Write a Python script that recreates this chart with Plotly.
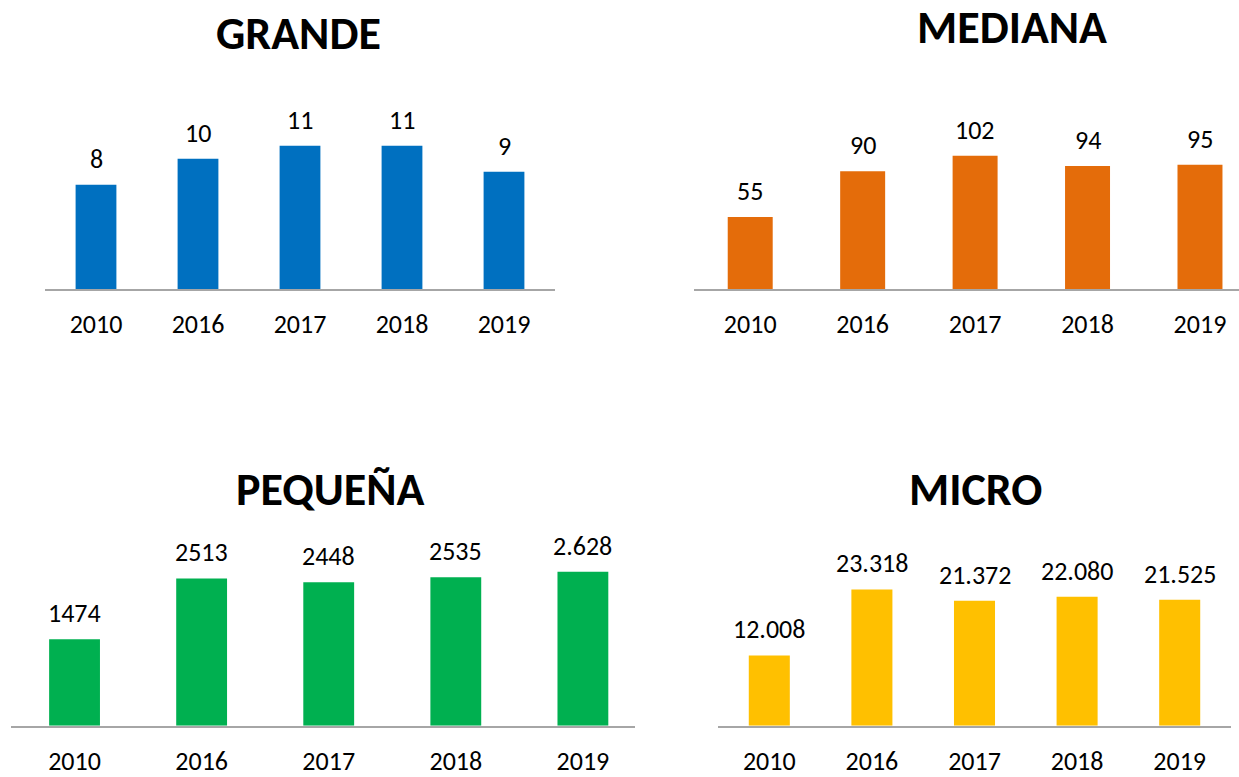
import plotly.graph_objects as go
from plotly.subplots import make_subplots

years = ['2010', '2016', '2017', '2018', '2019']

grande = [8, 10, 11, 11, 9]
mediana = [55, 90, 102, 94, 95]
pequena = [1474, 2513, 2448, 2535, 2628]
micro = [12008, 23318, 21372, 22080, 21525]

grande_labels = ['8', '10', '11', '11', '9']
mediana_labels = ['55', '90', '102', '94', '95']
pequena_labels = ['1474', '2513', '2448', '2535', '2.628']
micro_labels = ['12.008', '23.318', '21.372', '22.080', '21.525']

titles = ['GRANDE', 'MEDIANA', 'PEQUEÑA', 'MICRO']
colors = ['#0070C0', '#E46C0A', '#00B050', '#FFC000']

FONT = 'Carlito, Lato, sans-serif'
W, H = 1239, 777


def px(x):
    return x / W


def py(y):
    # small vertical correction measured from the rendered page
    return 1 - ((y - 1.35) / 0.99) / H


panels = [
    # values, labels, x domain (px), x range, y domain (px), y max, title pos
    (grande, grande_labels, (45, 555), (-0.5, 4.5), (100, 292), 14.66, (298, 35)),
    (mediana, mediana_labels, (694, 1239), (-0.5, 4.347), (100, 292), 146, (1012, 29)),
    (pequena, pequena_labels, (11, 635), (-0.5, 4.41), (540, 731), 3243, (330, 493)),
    (micro, micro_labels, (718, 1231), (-0.5, 4.5), (540, 731), 32510, (975, 493)),
]

fig = make_subplots(rows=2, cols=2)

for i, (vals, labels, xd, xr, yd, ymax, tpos) in enumerate(panels):
    row, col = i // 2 + 1, i % 2 + 1
    fig.add_trace(go.Bar(x=list(range(5)), y=vals, marker_color=colors[i],
                         marker_line_width=0, width=0.4, showlegend=False,
                         hoverinfo='skip'), row=row, col=col)
    n = '' if i == 0 else str(i + 1)
    fig.update_xaxes(domain=[px(xd[0]), px(xd[1])], range=list(xr),
                     tickvals=list(range(5)), ticktext=years,
                     showline=True, linecolor='#A6A6A6', linewidth=2,
                     showgrid=False, zeroline=False, ticks='',
                     ticklabelstandoff=11,
                     tickfont=dict(family=FONT, size=26, color='#000000'),
                     row=row, col=col)
    fig.update_yaxes(domain=[py(yd[1]), py(yd[0])], range=[0, ymax],
                     visible=False, row=row, col=col)
    for j, v in enumerate(vals):
        fig.add_annotation(x=j, y=v, xref='x' + n, yref='y' + n, text=labels[j],
                           showarrow=False, yanchor='middle', yshift=26,
                           font=dict(family=FONT, size=26, color='#000000'))
    fig.add_annotation(x=px(tpos[0]), y=py(tpos[1]), xref='paper', yref='paper',
                       text='<b>' + titles[i] + '</b>', showarrow=False,
                       xanchor='center', yanchor='middle',
                       font=dict(family=FONT, size=46, color='#000000'))

fig.update_layout(width=W, height=H, margin=dict(l=0, r=0, t=0, b=0),
                  paper_bgcolor='white', plot_bgcolor='white',
                  font=dict(family=FONT, color='#000000'))

# drop the default 8px body margin so the figure fills the window exactly
fig.write_html('out.html', config={'displayModeBar': False},
               post_script="document.body.style.margin='0';")
